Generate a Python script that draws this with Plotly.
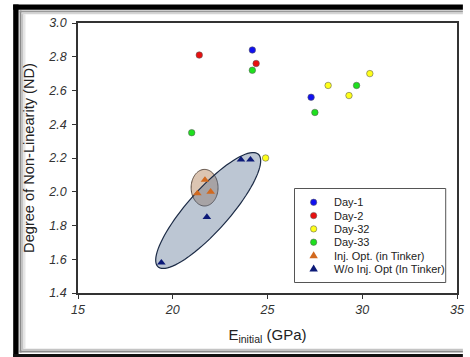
import numpy as np
import plotly.graph_objects as go

# ---------------- data ----------------
series_names = ["Day-1", "Day-2", "Day-32", "Day-33",
                "Inj. Opt. (in Tinker)", "W/o Inj. Opt (In Tinker)"]
day1_x = [24.2, 27.3]
day1_y = [2.84, 2.56]
day2_x = [21.4, 24.4]
day2_y = [2.81, 2.76]
day32_x = [24.9, 28.2, 29.3, 30.4]
day32_y = [2.20, 2.63, 2.57, 2.70]
day33_x = [21.0, 24.2, 27.5, 29.7]
day33_y = [2.35, 2.72, 2.47, 2.63]
inj_x = [21.3, 21.7, 22.0]
inj_y = [1.99, 2.07, 2.00]
wo_x = [19.4, 21.8, 23.6, 24.1]
wo_y = [1.58, 1.85, 2.19, 2.19]
x_ticks = [15, 20, 25, 30, 35]
y_ticks = [1.4, 1.6, 1.8, 2.0, 2.2, 2.4, 2.6, 2.8, 3.0]

# ---------------- layout geometry ----------------
W, H = 470, 357
ML, MR, MT, MB = 78, 6, 23, 64
PW, PH = W - ML - MR, H - MT - MB
XR, YR = [15, 35], [1.4, 3.0]
SX = PW / (XR[1] - XR[0])
SY = PH / (YR[1] - YR[0])


def px(x):
    return (x - ML) / PW


def py(y):
    return 1 - (y - MT) / PH


def ellipse_path(cx, cy, a, b, ang):
    th = np.deg2rad(ang)
    t = np.linspace(0, 2 * np.pi, 90)
    dx = a * np.cos(t) * np.cos(th) - b * np.sin(t) * np.sin(th)
    dy = a * np.cos(t) * np.sin(th) + b * np.sin(t) * np.cos(th)
    xs = cx + dx / SX
    ys = cy + dy / SY
    return "M" + " L".join(f"{x:.4f},{y:.4f}" for x, y in zip(xs, ys)) + " Z"


colors = ["#1010f0", "#e81010", "#ffff1a", "#1ee01e", "#d2691e", "#0c1a78"]
symbols = ["circle", "circle", "circle", "circle", "triangle-up", "triangle-up"]
xs_all = [day1_x, day2_x, day32_x, day33_x, inj_x, wo_x]
ys_all = [day1_y, day2_y, day32_y, day33_y, inj_y, wo_y]

fig = go.Figure()

# draw order: circles, then triangles on top
for i in [0, 1, 2, 3, 5, 4]:
    circ = symbols[i] == "circle"
    fig.add_trace(go.Scatter(
        x=xs_all[i], y=ys_all[i], mode="markers", name=series_names[i],
        marker=dict(symbol=symbols[i], color=colors[i], size=6.5 if circ else 7.5,
                    line=dict(color="rgba(90,90,90,0.7)" if circ else colors[i],
                              width=0.8 if circ else 0)),
        showlegend=False, cliponaxis=False))

shapes = []
# ellipses (in data coordinates)
shapes.append(dict(type="path", xref="x", yref="y", layer="below",
                   path=ellipse_path(21.68, 2.024, 13.7, 18.3, 0),
                   fillcolor="#dcc5b2", line=dict(color="#5a4a40", width=1)))
shapes.append(dict(type="path", xref="x", yref="y", layer="below",
                   path=ellipse_path(21.87, 1.889, 76, 21, 47.7),
                   fillcolor="rgba(88,112,145,0.40)", line=dict(color="#1b2a45", width=1.2)))

# manual compact legend
leg_x0, leg_x1, leg_y0, leg_y1 = 298.5, 452.5, 188.5, 282.5
row0, rowstep = 202.3, 13.3
mark_x, text_x = 318, 336.5
shapes.append(dict(type="rect", xref="paper", yref="paper",
                   x0=px(leg_x0), x1=px(leg_x1), y0=py(leg_y1), y1=py(leg_y0),
                   line=dict(color="#555555", width=1), fillcolor="white", layer="above"))
for k in range(6):
    cy = row0 + k * rowstep
    if symbols[k] == "circle":
        r = 3.2
        shapes.append(dict(type="circle", xref="paper", yref="paper",
                           x0=px(mark_x - r), x1=px(mark_x + r),
                           y0=py(cy + r), y1=py(cy - r),
                           fillcolor=colors[k], layer="above",
                           line=dict(color="rgba(90,90,90,0.7)", width=0.8)))
    else:
        pts = [(mark_x, cy - 4.2), (mark_x + 4.3, cy + 2.8), (mark_x - 4.3, cy + 2.8)]
        path = "M" + " L".join(f"{px(a):.5f},{py(b):.5f}" for a, b in pts) + " Z"
        shapes.append(dict(type="path", xref="paper", yref="paper", path=path,
                           fillcolor=colors[k], layer="above", line=dict(width=0)))


def band(x0, y0, x1, y1, color):
    shapes.append(dict(type="rect", xref="paper", yref="paper",
                       x0=px(x0), x1=px(x1), y0=py(y1), y1=py(y0),
                       line=dict(width=0), fillcolor=color, layer="below"))


# picture frame
band(12, 4.5, 17.5, 357, "#000000")
band(12, 4.5, 470, 9.8, "#000000")
band(12, 354, 470, 357, "#111111")
band(18.5, 10.5, 20.5, 352.5, "#8a8a8a")
band(18.5, 10.5, 470, 12.5, "#9a9a9a")
band(18.5, 350.5, 470, 352.5, "#8a8a8a")
band(20.5, 12.5, 22.5, 350.5, "#c4c4c4")
band(20.5, 12.5, 470, 14.2, "#d4d4d4")
band(20.5, 348.8, 470, 350.5, "#c4c4c4")
band(22.5, 14.2, 24.5, 348.8, "#e6e6e6")

annotations = []
for k, name in enumerate(series_names):
    annotations.append(dict(x=px(text_x), y=py(row0 + k * rowstep), xref="paper", yref="paper",
                            text=name, showarrow=False, xanchor="left", yanchor="middle",
                            font=dict(family="Liberation Sans, Arial", size=11, color="#222222")))

tickfont = dict(family="Liberation Sans, Arial", size=12.5, color="#333333", style="italic")
axcommon = dict(showgrid=False, zeroline=False, showline=True, mirror=True,
                linecolor="#333333", linewidth=1.5, ticks="outside", ticklen=4,
                tickcolor="#333333", tickwidth=1, tickfont=tickfont)

fig.update_layout(
    width=W, height=H, margin=dict(l=ML, r=MR, t=MT, b=MB),
    paper_bgcolor="white", plot_bgcolor="white", showlegend=False,
    xaxis=dict(range=XR, tickvals=x_ticks, ticktext=[str(v) for v in x_ticks],
               title=dict(text="E<sub>initial</sub> (GPa)", standoff=14,
                          font=dict(family="Liberation Sans, Arial", size=15, color="#222222")),
               **axcommon),
    yaxis=dict(range=YR, tickvals=y_ticks, ticktext=[f"{v:.1f}" for v in y_ticks],
               ticklabelstandoff=3,
               title=dict(text="Degree of Non-Linearity (ND)", standoff=10,
                          font=dict(family="Liberation Sans, Arial", size=14.6, color="#222222")),
               **axcommon),
    shapes=shapes, annotations=annotations,
)

fig.write_html("out.html")
